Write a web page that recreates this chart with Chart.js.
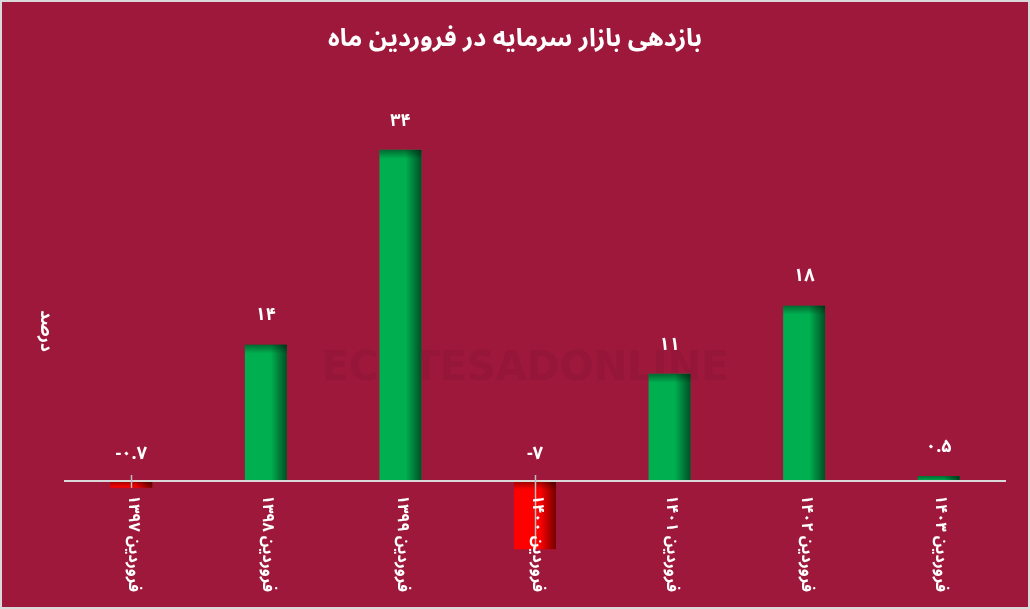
<!DOCTYPE html>
<html><head><meta charset="utf-8">
<script src="https://cdn.jsdelivr.net/npm/chart.js@4"></script>
<style>html,body{margin:0;padding:0;background:#9d183b;}canvas{display:block;}</style>
</head><body>
<canvas id="c" width="1030" height="609"></canvas>
<script>
const categories = ["فروردین ۱۳۹۷","فروردین ۱۳۹۸","فروردین ۱۳۹۹","فروردین ۱۴۰۰","فروردین ۱۴۰۱","فروردین ۱۴۰۲","فروردین ۱۴۰۳"];
const returns = [-0.7, 14, 34, -7, 11, 18, 0.5];
const titleText = "بازدهی بازار سرمایه در فروردین ماه";
const yTitle = "درصد";

const FONT = "'Noto Sans Arabic','DejaVu Sans',sans-serif";
const BG = "#9d183b";
const faDigits = s => String(s).replace(/[0-9]/g, d => "۰۱۲۳۴۵۶۷۸۹"[d]);

const custom = {
  id: 'custom',
  beforeDraw(chart) {
    const ctx = chart.ctx;
    ctx.save();
    ctx.fillStyle = BG;
    ctx.fillRect(0, 0, chart.width, chart.height);
    // faint watermark
    ctx.fillStyle = 'rgba(0,0,0,0.05)';
    ctx.font = "bold 40px 'DejaVu Sans',sans-serif";
    ctx.textAlign = 'center';
    ctx.textBaseline = 'middle';
    ctx.fillText('ECOTESADONLINE', 525, 370);
    // title
    ctx.fillStyle = '#ffffff';
    ctx.font = "bold 25px " + FONT;
    ctx.fillText(titleText, chart.width / 2, 42);
    ctx.restore();
  },
  afterDatasetsDraw(chart) {
    const ctx = chart.ctx;
    const meta = chart.getDatasetMeta(0);
    const y = chart.scales.y;
    const x = chart.scales.x;
    const zeroY = y.getPixelForValue(0);
    ctx.save();
    meta.data.forEach((bar, i) => {
      const p = bar.getProps(['x', 'y', 'base', 'width'], true);
      const left = p.x - p.width / 2, right = p.x + p.width / 2;
      const top = Math.min(p.y, p.base), bottom = Math.max(p.y, p.base);
      const h = bottom - top;
      const gx = ctx.createLinearGradient(left + p.width * 0.62, 0, right, 0);
      gx.addColorStop(0, 'rgba(0,0,0,0)');
      gx.addColorStop(1, 'rgba(0,0,0,0.55)');
      ctx.fillStyle = gx;
      ctx.fillRect(left + p.width * 0.62, top, p.width * 0.38, h);
      const band = Math.min(9, h);
      const gy = ctx.createLinearGradient(0, top, 0, top + band);
      gy.addColorStop(0, 'rgba(0,0,0,0.4)');
      gy.addColorStop(1, 'rgba(0,0,0,0)');
      ctx.fillStyle = gy;
      ctx.fillRect(left, top, p.width, band);
    });
    // zero line
    ctx.strokeStyle = '#d9d9d9';
    ctx.lineWidth = 2;
    ctx.beginPath();
    ctx.moveTo(chart.chartArea.left, zeroY);
    ctx.lineTo(chart.chartArea.right, zeroY);
    ctx.stroke();
    // tick marks on negative bars
    ctx.strokeStyle = '#bfbfbf';
    ctx.lineWidth = 1.5;
    meta.data.forEach((bar, i) => {
      if (returns[i] < 0) {
        const p = bar.getProps(['x', 'y'], true);
        ctx.beginPath();
        ctx.moveTo(Math.round(p.x) + 0.5, zeroY - 6);
        ctx.lineTo(Math.round(p.x) + 0.5, p.y);
        ctx.stroke();
      }
    });
    // value labels
    ctx.fillStyle = '#ffffff';
    ctx.font = "bold 18px " + FONT;
    ctx.textAlign = 'center';
    ctx.textBaseline = 'middle';
    meta.data.forEach((bar, i) => {
      const p = bar.getProps(['x', 'y'], true);
      const topY = Math.min(p.y, zeroY);
      ctx.fillText(faDigits(returns[i]), p.x, topY - (returns[i] < 0 ? 25 : 27));
    });
    // category labels rotated clockwise
    ctx.font = "bold 16px " + FONT;
    ctx.textAlign = 'left';
    ctx.textBaseline = 'middle';
    categories.forEach((c, i) => {
      const px = x.getPixelForTick(i);
      ctx.save();
      ctx.translate(px, zeroY + 14);
      ctx.rotate(Math.PI / 2);
      ctx.fillText(c, 0, 0);
      ctx.restore();
    });
    // y axis title rotated clockwise
    ctx.font = "bold 17px " + FONT;
    ctx.textAlign = 'center';
    ctx.save();
    ctx.translate(44, 331);
    ctx.rotate(Math.PI / 2);
    ctx.fillText(yTitle, 0, 0);
    ctx.restore();
    // border
    ctx.strokeStyle = '#d9d9d9';
    ctx.lineWidth = 2;
    ctx.strokeRect(1, 1, chart.width - 2, chart.height - 2);
    ctx.restore();
  }
};

new Chart(document.getElementById('c'), {
  type: 'bar',
  data: {
    labels: categories,
    datasets: [{
      data: returns,
      backgroundColor: returns.map(v => v < 0 ? '#ff0000' : '#00b050'),
      borderWidth: 0,
      categoryPercentage: 1,
      barPercentage: 0.312
    }]
  },
  options: {
    responsive: false,
    animation: false,
    devicePixelRatio: 1,
    layout: { padding: { left: 64, right: 24, top: 100, bottom: 9 } },
    plugins: {
      legend: { display: false },
      tooltip: { enabled: false },
      title: { display: false }
    },
    scales: {
      x: { display: false },
      y: { display: false, min: -12.22, max: 39.12 }
    }
  },
  plugins: [custom]
});
</script>
</body></html>
